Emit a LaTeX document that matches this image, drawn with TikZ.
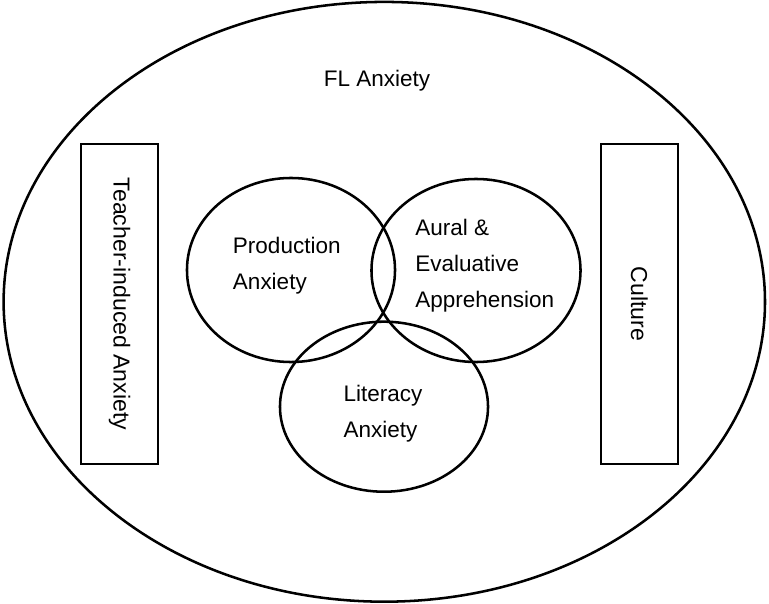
\documentclass[tikz,border=0pt]{standalone}
\usepackage{fontspec}
\setmainfont{Liberation Sans}
\usetikzlibrary{shapes.geometric}

\begin{document}
\begin{tikzpicture}[
  x=0.025cm, y=-0.025cm,
  ring/.style={draw, ellipse, line width=1.8pt, inner sep=0pt},
  bar/.style={draw, line width=1.8pt, rotate=-90, minimum width=8cm,
              minimum height=1.925cm, inner sep=0pt,
              font=\fontsize{16.4}{25.6}\selectfont},
  lbl/.style={align=left, anchor=west, inner sep=0pt,
              font=\fontsize{16}{25.6}\selectfont}
]
  \useasboundingbox (0,0) rectangle (769,604);
  \node[ring, minimum width=19.03cm, minimum height=14.99cm] (fl) at (384.3,301.8) {};
  \node[lbl, anchor=base] (fltxt) at (377,86.7) {FL Anxiety};

  \node[bar] (teach) at (119.5,304) {Teacher-induced Anxiety};
  \node[bar] (cult)  at (639.3,304) {Culture};

  \node[ring, minimum width=5.2cm,   minimum height=4.6cm]   (prod)  at (291,270)   {};
  \node[ring, minimum width=5.225cm, minimum height=4.575cm] (aural) at (476,270.5) {};
  \node[ring, minimum width=5.2cm,   minimum height=4.25cm]  (lit)   at (384,406.7) {};

  \node[lbl] (prodtxt)  at (232.7,266) {Production\\Anxiety};
  \node[lbl] (auraltxt) at (415,266)   {Aural \&\\Evaluative\\Apprehension};
  \node[lbl] (littxt)   at (343.3,414) {Literacy\\Anxiety};
\end{tikzpicture}
\end{document}
